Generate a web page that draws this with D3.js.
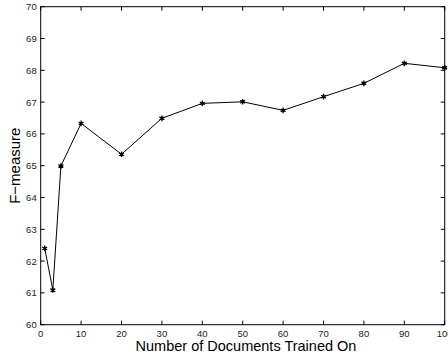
<!DOCTYPE html>
<html><head><meta charset="utf-8">
<script src="https://cdn.jsdelivr.net/npm/d3@7"></script>
<style>body{margin:0;background:#fff}svg{display:block}</style>
</head><body>
<svg id="c" width="448" height="358"></svg>
<script>
const docs = [1, 3, 5, 10, 20, 30, 40, 50, 60, 70, 80, 90, 100];
const fmeasure = [62.40, 61.09, 64.99, 66.33, 65.36, 66.49, 66.96, 67.01, 66.74, 67.17, 67.59, 68.22, 68.08];
const xTicks = [0, 10, 20, 30, 40, 50, 60, 70, 80, 90, 100];
const yTicks = [60, 61, 62, 63, 64, 65, 66, 67, 68, 69, 70];

const svg = d3.select("#c");
const L = 40.7, R = 444.7, T = 6.7, B = 324.7;
const x = d3.scaleLinear().domain([0, 100]).range([L, R]);
const y = d3.scaleLinear().domain([60, 70]).range([B, T]);
const font = "'Liberation Sans', Arial, Helvetica, sans-serif";

// frame
svg.append("rect").attr("x", L).attr("y", T).attr("width", R - L).attr("height", B - T)
  .attr("fill", "none").attr("stroke", "#000").attr("stroke-width", 1);

const tl = 4;
const g = svg.append("g").attr("stroke", "#000").attr("stroke-width", 1);
xTicks.forEach(t => {
  g.append("line").attr("x1", x(t)).attr("x2", x(t)).attr("y1", B).attr("y2", B - tl);
  g.append("line").attr("x1", x(t)).attr("x2", x(t)).attr("y1", T).attr("y2", T + tl);
});
yTicks.forEach(t => {
  g.append("line").attr("x1", L).attr("x2", L + tl).attr("y1", y(t)).attr("y2", y(t));
  g.append("line").attr("x1", R).attr("x2", R - tl).attr("y1", y(t)).attr("y2", y(t));
});

svg.append("g").selectAll("text").data(xTicks).join("text")
  .attr("x", d => x(d)).attr("y", B + 12).attr("text-anchor", "middle")
  .attr("font-family", font).attr("font-size", 9.5).attr("fill", "#222").text(d => d);
svg.append("g").selectAll("text").data(yTicks).join("text")
  .attr("x", L - 4).attr("y", d => y(d) + 3.5).attr("text-anchor", "end")
  .attr("font-family", font).attr("font-size", 9.5).attr("fill", "#222").text(d => d);

// labels
svg.append("text").attr("x", 246).attr("y", 351).attr("text-anchor", "middle")
  .attr("font-family", font).attr("font-size", 14.5).attr("fill", "#000").text("Number of Documents Trained On");
svg.append("text").attr("transform", `translate(20,${(T + B) / 2}) rotate(-90)`).attr("text-anchor", "middle")
  .attr("font-family", font).attr("font-size", 15).attr("fill", "#000").text("F\u2212measure");

// line
const data = docs.map((d, i) => [d, fmeasure[i]]);
svg.append("path").datum(data)
  .attr("d", d3.line().x(d => x(d[0])).y(d => y(d[1])))
  .attr("fill", "none").attr("stroke", "#000").attr("stroke-width", 1);

const sym = d3.symbol().type(d3.symbolAsterisk).size(22);
svg.append("g").selectAll("path").data(data).join("path")
  .attr("transform", d => `translate(${x(d[0])},${y(d[1])})`)
  .attr("d", sym).attr("fill", "none").attr("stroke", "#000").attr("stroke-width", 1.3);
svg.append("g").selectAll("circle").data(data).join("circle")
  .attr("cx", d => x(d[0])).attr("cy", d => y(d[1])).attr("r", 1.5).attr("fill", "#000");
</script>
</body></html>
